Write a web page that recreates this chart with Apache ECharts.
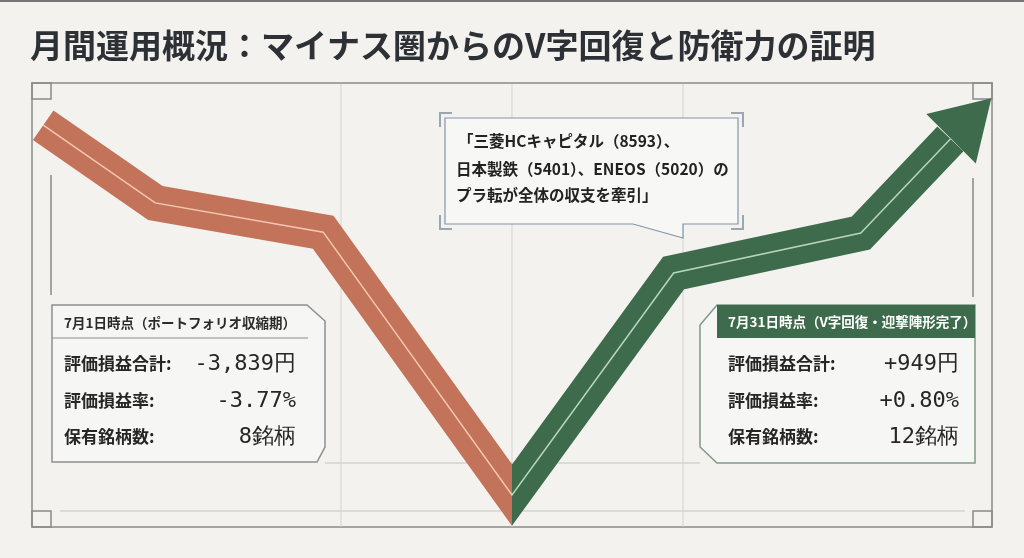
<!DOCTYPE html>
<html><head><meta charset="utf-8">
<script src="https://cdn.jsdelivr.net/npm/echarts@6/dist/echarts.min.js"></script>
<style>html,body{margin:0;padding:0;background:#f3f2ee}#c{width:1024px;height:558px}</style>
</head><body><div id="c"></div>
<script>
// ---- data ----
const titleText = '月間運用概況：マイナス圏からのV字回復と防衛力の証明';
const pathDays = [0.35, 3.85, 9.1, 15, 20.05, 25.9, 28.7];
const pathLevels = [90.5, 73, 66.4, 7.2, 57.2, 66.2, 87.4];
const arrowTip = [30, 96.6];
const turnDay = 15;
const rowLabels = ['評価損益合計:', '評価損益率:', '保有銘柄数:'];
const startValues = ['-3,839円', '-3.77%', '8銘柄'];
const endValues = ['+949円', '+0.80%', '12銘柄'];
const startHeader = '7月1日時点（ポートフォリオ収縮期）';
const endHeader = '7月31日時点（V字回復・迎撃陣形完了）';
const calloutLines = ['「三菱HCキャピタル（8593）、', '日本製鉄（5401）、ENEOS（5020）の', 'プラ転が全体の収支を牽引」'];

// ---- styles ----
const ORANGE = '#c3735a', ORANGE_IN = '#f4c7b0';
const GREEN = '#3d6b4b', GREEN_IN = '#b9d4be';
const FRAME = '#8a8a8a', GRIDC = '#d3d3d0';
const CJK = '"Noto Sans CJK JP", "Noto Sans", sans-serif';
const MONO = '"DejaVu Sans Mono", "Liberation Mono", monospace';

const chart = echarts.init(document.getElementById('c'));
const pts = pathDays.map((d, i) => [d, pathLevels[i]]);
const lastPt = pts[pts.length - 1];
const arrowCenter = [(arrowTip[0] + lastPt[0]) / 2, (arrowTip[1] + lastPt[1]) / 2];

const g = [];
g.push({type:'line', z:1, shape:{x1:0,y1:1,x2:1024,y2:1}, style:{stroke:'#777', lineWidth:2}});
g.push({type:'text', z:20, style:{text:titleText, x:30, y:45, font:'bold 33px ' + CJK, fill:'#2d3035', verticalAlign:'middle'}});
[341, 512, 683].forEach(x => g.push({type:'line', z:1, shape:{x1:x,y1:84,x2:x,y2:527}, style:{stroke:GRIDC, lineWidth:1}}));
g.push({type:'line', z:1, shape:{x1:60,y1:511,x2:965,y2:511}, style:{stroke:GRIDC, lineWidth:1.5}});
g.push({type:'line', z:1, shape:{x1:325,y1:463,x2:700,y2:463}, style:{stroke:GRIDC, lineWidth:1.5}});
g.push({type:'line', z:1, shape:{x1:51,y1:175,x2:51,y2:295}, style:{stroke:FRAME, lineWidth:1.5}});
g.push({type:'line', z:1, shape:{x1:973,y1:178,x2:973,y2:297}, style:{stroke:FRAME, lineWidth:1.5}});
[[32,83],[973,83],[32,511],[973,511]].forEach(([x,y]) => g.push({type:'rect', z:1, shape:{x:x,y:y,width:19,height:16}, style:{fill:'none', stroke:FRAME, lineWidth:1.5}}));

g.push({type:'polygon', z:10, shape:{points:[[52,305],[307,305],[325,321],[325,447],[317,462],[52,462]]}, style:{fill:'#f6f6f4', stroke:'#8e8e8e', lineWidth:1.5}});
g.push({type:'line', z:11, shape:{x1:52,y1:338,x2:308,y2:338}, style:{stroke:'#8e8e8e', lineWidth:1.2}});
g.push({type:'text', z:12, style:{text:startHeader, x:64, y:323, font:'bold 13.5px ' + CJK, fill:'#2b2b2b', verticalAlign:'middle'}});
g.push({type:'polygon', z:10, shape:{points:[[717,305],[975,305],[975,463],[717,463],[700,447],[700,325]]}, style:{fill:'#f6f6f4', stroke:'#7f9a86', lineWidth:1.5}});
g.push({type:'rect', z:11, shape:{x:717,y:305,width:258,height:33}, style:{fill:GREEN}});
g.push({type:'text', z:12, style:{text:endHeader, x:728, y:322, font:'bold 13.5px ' + CJK, fill:'#ffffff', verticalAlign:'middle'}});
const rowY = [364, 401, 437];
rowLabels.forEach((t, i) => {
  g.push({type:'text', z:12, style:{text:t, x:64, y:rowY[i], font:'bold 17px ' + CJK, fill:'#262626', verticalAlign:'middle'}});
  g.push({type:'text', z:12, style:{text:startValues[i], x:296, y:rowY[i], font:'22px ' + MONO, fill:'#262626', align:'right', verticalAlign:'middle'}});
  g.push({type:'text', z:12, style:{text:t, x:728, y:rowY[i], font:'bold 17px ' + CJK, fill:'#262626', verticalAlign:'middle'}});
  g.push({type:'text', z:12, style:{text:endValues[i], x:959, y:rowY[i], font:'22px ' + MONO, fill:'#262626', align:'right', verticalAlign:'middle'}});
});

g.push({type:'polygon', z:10, shape:{points:[[445,118],[738,118],[738,224],[683,224],[683,238],[633,224],[445,224]]}, style:{fill:'#f7f7f6', stroke:'#8396aa', lineWidth:1.2}});
const BR = '#9aa6b4';
[[440,113,1,1],[743,113,-1,1],[440,229,1,-1],[743,229,-1,-1]].forEach(([x,y,sx,sy]) => {
  g.push({type:'polyline', z:11, shape:{points:[[x+sx*12,y],[x,y],[x,y+sy*14]]}, style:{stroke:BR, lineWidth:2, fill:'none'}});
});
const cY = [141, 169, 195];
calloutLines.forEach((t, i) => g.push({type:'text', z:12, style:{text:t, x:i === 0 ? 458 : 456, y:cY[i], font:'bold 15.5px ' + CJK, fill:'#222', verticalAlign:'middle'}}));

chart.setOption({
  backgroundColor:'#f3f2ee',
  animation:false,
  grid:{left:32, right:32, top:83, bottom:31, show:true, borderColor:FRAME, borderWidth:1.5, backgroundColor:'transparent'},
  xAxis:{type:'value', min:0, max:30, show:false},
  yAxis:{type:'value', min:0, max:100, show:false},
  series:[
    {type:'line', data:pts, showSymbol:false, clip:false, z:5, lineStyle:{width:36, join:'miter', miterLimit:10, cap:'butt', color:ORANGE}, silent:true},
    {type:'line', data:pts, showSymbol:false, clip:false, z:6, lineStyle:{width:1.5, join:'miter', color:ORANGE_IN}, silent:true},
    {type:'scatter', data:[arrowCenter], clip:false, z:5, silent:true, symbol:'triangle', symbolSize:[70, 57], symbolRotate:-45, itemStyle:{color:GREEN, opacity:1}}
  ],
  graphic:{elements:g}
});

// split colour at the turning day, using the axis scale
const W = chart.getWidth();
const splitX = chart.convertToPixel({xAxisIndex:0}, turnDay);
const f = splitX / W;
function split(c1, c2){
  return {type:'linear', x:0, y:0, x2:W, y2:0, global:true, colorStops:[{offset:0,color:c1},{offset:f,color:c1},{offset:f,color:c2},{offset:1,color:c2}]};
}
chart.setOption({series:[
  {lineStyle:{color:split(ORANGE, GREEN)}},
  {lineStyle:{color:split(ORANGE_IN, GREEN_IN)}}
]});
</script>
</body></html>
